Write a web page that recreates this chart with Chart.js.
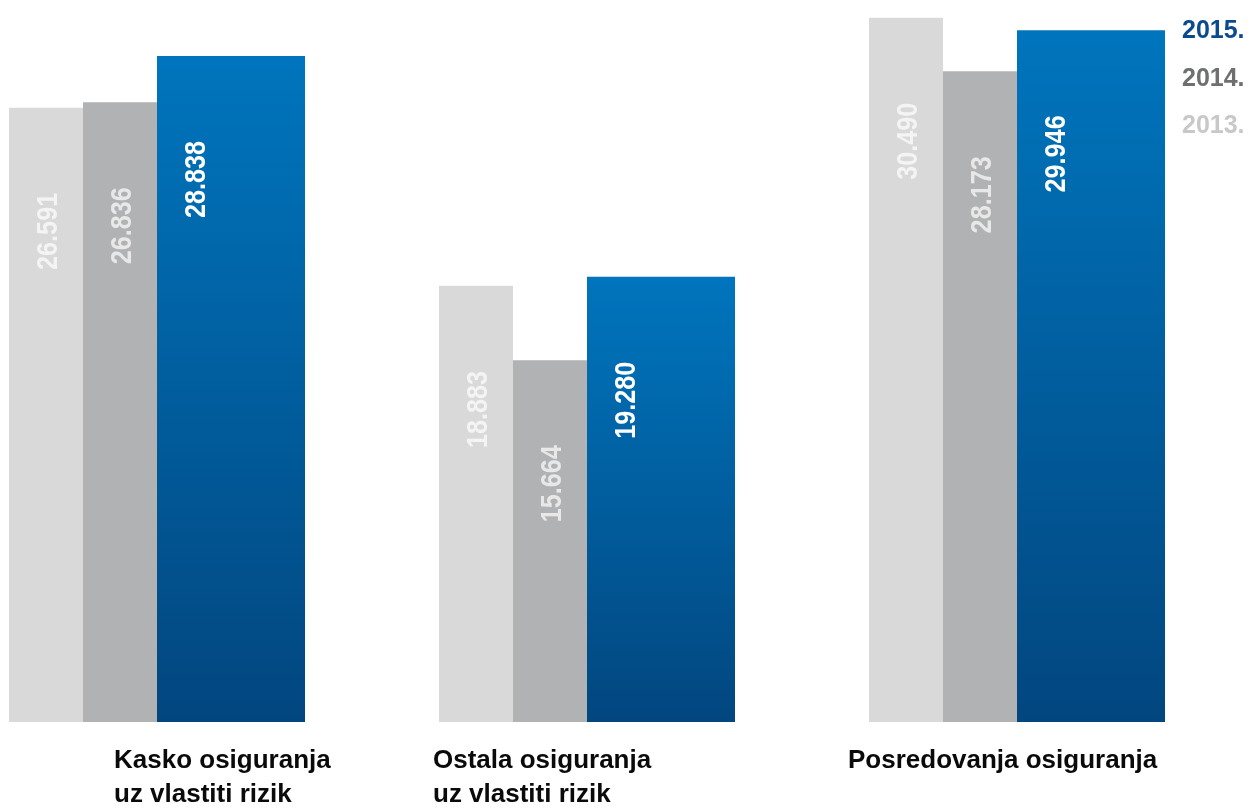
<!DOCTYPE html>
<html>
<head>
<meta charset="utf-8">
<script src="https://cdn.jsdelivr.net/npm/chart.js@4/dist/chart.umd.min.js"></script>
<style>
  html, body { margin: 0; padding: 0; background: #fff; overflow: hidden; }
  /* the first group sits close to the left edge, so the plot is shifted left */
  #wrap { position: absolute; left: -58px; top: 0; width: 1308px; height: 809px; }
</style>
</head>
<body>
<div id="wrap"><canvas id="chart"></canvas></div>
<script>
// Data
const categories = [
  ["Kasko osiguranja", "uz vlastiti rizik"],
  ["Ostala osiguranja", "uz vlastiti rizik"],
  ["Posredovanja osiguranja"]
];
const years = ["2013.", "2014.", "2015."];
const values2013 = [26.591, 18.883, 30.490];
const values2014 = [26.836, 15.664, 28.173];
const values2015 = [28.838, 19.280, 29.946];

// Layout / style
const labelShift = [-43, -154, -169];   // category label start, relative to group centre
const FONT = '"Liberation Sans", Arial, Helvetica, sans-serif';

function blueGradient(c) {
  const chart = c.chart;
  if (!chart.chartArea || c.type !== "data") return "#0063a6";
  const y = chart.scales.y;
  const top = y.getPixelForValue(c.raw);
  const bottom = y.getPixelForValue(0);
  const g = chart.ctx.createLinearGradient(0, top, 0, bottom);
  g.addColorStop(0, "#0075bd");
  g.addColorStop(1, "#02467f");
  return g;
}

// value labels, rotated, inside each bar
const valueLabels = {
  id: "valueLabels",
  afterDatasetsDraw(chart) {
    const ctx = chart.ctx;
    chart.data.datasets.forEach((ds, i) => {
      if (ds.filler) return;
      chart.getDatasetMeta(i).data.forEach((bar, j) => {
        const size = 30;
        ctx.save();
        ctx.translate(bar.x, bar.y + 85);
        ctx.rotate(-Math.PI / 2);
        ctx.scale(0.84, 1);
        ctx.font = `bold ${size}px ${FONT}`;
        ctx.textAlign = "right";
        ctx.textBaseline = "alphabetic";
        ctx.fillStyle = ds.valueColor;
        ctx.fillText(ds.data[j].toFixed(3), 0, size * 0.358);
        ctx.restore();
      });
    });
  }
};

// category names under the groups
const categoryLabels = {
  id: "categoryLabels",
  afterDraw(chart) {
    const ctx = chart.ctx, x = chart.scales.x, area = chart.chartArea;
    ctx.save();
    ctx.font = `bold 26px ${FONT}`;
    ctx.fillStyle = "#0a0a0a";
    ctx.textAlign = "left";
    ctx.textBaseline = "alphabetic";
    categories.forEach((lines, i) => {
      const px = x.getPixelForValue(i) + labelShift[i];
      lines.forEach((t, k) => ctx.fillText(t, px, area.bottom + 46 + k * 34));
    });
    ctx.restore();
  }
};

// text-only legend, newest year on top
const yearLegend = {
  id: "yearLegend",
  afterDraw(chart) {
    const ctx = chart.ctx, area = chart.chartArea;
    ctx.save();
    ctx.font = `bold 25px ${FONT}`;
    ctx.textAlign = "left";
    ctx.textBaseline = "alphabetic";
    const items = chart.data.datasets.filter(ds => !ds.filler).reverse();
    items.forEach((ds, k) => {
      ctx.fillStyle = ds.legendColor;
      ctx.fillText(ds.label, area.right - 50, 38 + k * 47.5);
    });
    ctx.restore();
  }
};

const chart = new Chart(document.getElementById("chart"), {
  type: "bar",
  data: {
    labels: categories,
    datasets: [
      { label: years[0], data: values2013, backgroundColor: "#d9d9d9",
        valueColor: "rgba(255,255,255,0.7)", legendColor: "#c8c8c8" },
      { label: years[1], data: values2014, backgroundColor: "#b1b2b4",
        valueColor: "rgba(255,255,255,0.7)", legendColor: "#6e6f71" },
      { label: years[2], data: values2015, backgroundColor: blueGradient,
        valueColor: "#ffffff", legendColor: "#0c4a8e" },
      // the 2015 bar is twice as wide: this is its second half
      { label: "", data: values2015, backgroundColor: blueGradient, filler: true }
    ]
  },
  options: {
    responsive: true,
    maintainAspectRatio: false,
    animation: false,
    categoryPercentage: 296 / 430,
    barPercentage: 1,
    inflateAmount: 0,
    layout: { padding: { left: 0, right: 18, top: 0, bottom: 87 } },
    scales: {
      x: { display: false },
      y: { display: false, min: 0, max: 31.26 }
    },
    plugins: {
      legend: { display: false },
      tooltip: { enabled: false }
    }
  },
  plugins: [valueLabels, categoryLabels, yearLegend]
});
</script>
</body>
</html>
